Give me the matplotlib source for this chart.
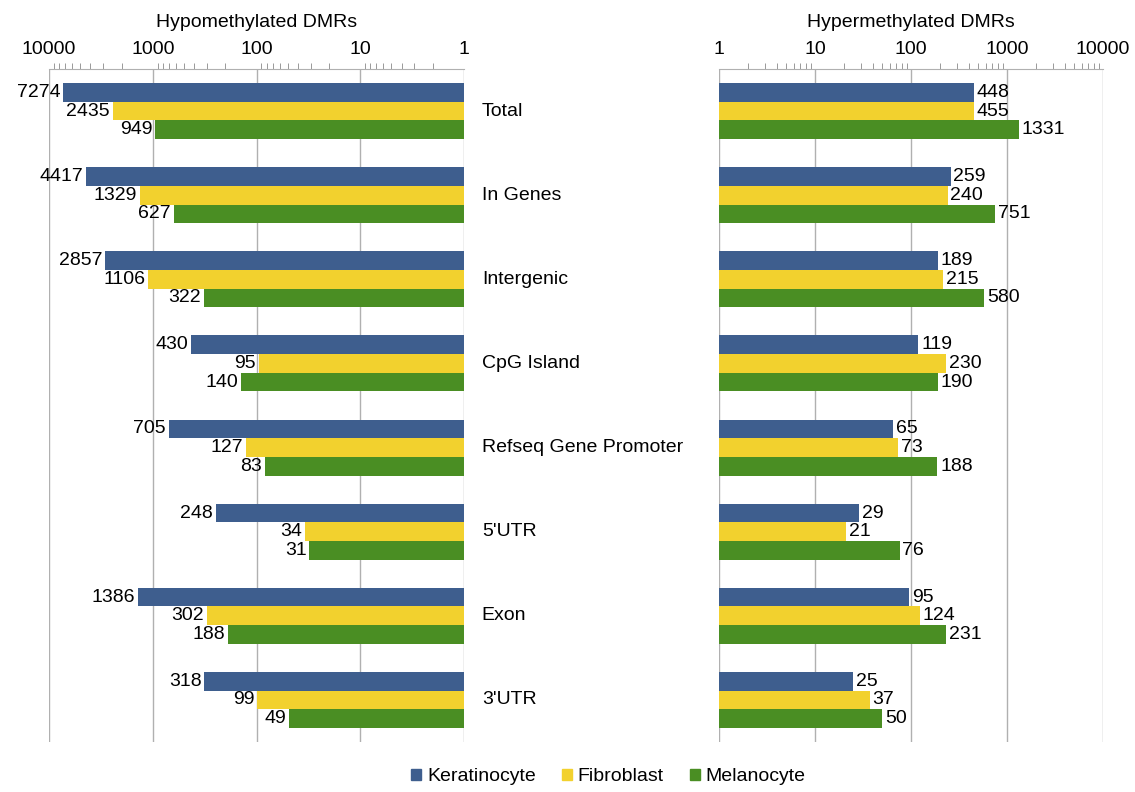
import numpy as np
import matplotlib.pyplot as plt
from matplotlib.patches import Patch
from matplotlib.ticker import FixedLocator, LogLocator, NullFormatter

plt.rcParams["font.family"] = ["Liberation Sans", "DejaVu Sans"]

categories = ["Total", "In Genes", "Intergenic", "CpG Island",
              "Refseq Gene Promoter", "5'UTR", "Exon", "3'UTR"]
cell_types = ["Keratinocyte", "Fibroblast", "Melanocyte"]
colors = ["#3e5e8e", "#f2d12e", "#4a8e23"]

# 低メチル化 DMR 数 (各行: Keratinocyte, Fibroblast, Melanocyte)
hypo_keratinocyte = [7274, 4417, 2857, 430, 705, 248, 1386, 318]
hypo_fibroblast = [2435, 1329, 1106, 95, 127, 34, 302, 99]
hypo_melanocyte = [949, 627, 322, 140, 83, 31, 188, 49]

# 高メチル化 DMR 数
hyper_keratinocyte = [448, 259, 189, 119, 65, 29, 95, 25]
hyper_fibroblast = [455, 240, 215, 230, 73, 21, 124, 37]
hyper_melanocyte = [1331, 751, 580, 190, 188, 76, 231, 50]

decade_ticks = [1, 10, 100, 1000, 10000]
decade_labels = ["1", "10", "100", "1000", "10000"]

fig = plt.figure(figsize=(11.35, 7.92), dpi=100)
ax_l = fig.add_axes([0.0432, 0.0631, 0.3656, 0.8498])
ax_r = fig.add_axes([0.6335, 0.0631, 0.3383, 0.8498])

y = np.arange(len(categories))
bh = 0.222
offsets = [-bh, 0.0, bh]
fs = 14


def style_axis(ax, title, reverse):
    ax.set_xscale("log")
    if reverse:
        ax.set_xlim(10000, 1)
    else:
        ax.set_xlim(1, 10000)
    ax.set_ylim(7.5, -0.5)
    ax.xaxis.set_major_locator(FixedLocator(decade_ticks))
    ax.set_xticklabels(decade_labels)
    ax.xaxis.set_minor_locator(LogLocator(base=10, subs=np.arange(2, 10)))
    ax.xaxis.set_minor_formatter(NullFormatter())
    ax.xaxis.tick_top()
    ax.tick_params(axis="x", which="major", length=0, labelsize=fs, pad=8)
    ax.tick_params(axis="x", which="minor", length=4, color="#999999", width=0.7)
    ax.set_yticks([])
    ax.grid(True, axis="x", which="major", color="#b0b0b0", linewidth=1.0)
    ax.set_axisbelow(True)
    for side in ["bottom", "right", "left"]:
        ax.spines[side].set_visible(False)
    ax.spines["top"].set_color("#b0b0b0")
    pos = ax.get_position()
    fig.text((pos.x0 + pos.x1) / 2, 0.9659, title, ha="center", va="baseline",
             fontsize=fs)


hypo = [hypo_keratinocyte, hypo_fibroblast, hypo_melanocyte]
hyper = [hyper_keratinocyte, hyper_fibroblast, hyper_melanocyte]

for k in range(3):
    vals = np.array(hypo[k])
    ax_l.barh(y + offsets[k], vals - 1, left=1, height=bh, color=colors[k])
    for yi, v in zip(y + offsets[k], vals):
        ax_l.annotate(str(v), (v, yi), xytext=(-2, 0), textcoords="offset points",
                      ha="right", va="center", fontsize=fs)

    vals = np.array(hyper[k])
    ax_r.barh(y + offsets[k], vals - 1, left=1, height=bh, color=colors[k])
    for yi, v in zip(y + offsets[k], vals):
        ax_r.annotate(str(v), (v, yi), xytext=(2, 0), textcoords="offset points",
                      ha="left", va="center", fontsize=fs)

style_axis(ax_l, "Hypomethylated DMRs", reverse=True)
style_axis(ax_r, "Hypermethylated DMRs", reverse=False)

# 中央のカテゴリ名
for yi, name in zip(y, categories):
    ax_l.text(1.043, yi, name, transform=ax_l.get_yaxis_transform(),
              ha="left", va="center", fontsize=fs)

handles = [Patch(color=c, label=t) for c, t in zip(colors, cell_types)]
fig.legend(handles=handles, loc="center", bbox_to_anchor=(0.536, 0.019), ncol=3,
           frameon=False, fontsize=fs, handlelength=0.5, handleheight=0.5,
           handletextpad=0.3, columnspacing=1.35)

plt.savefig("out.png", dpi=100)
